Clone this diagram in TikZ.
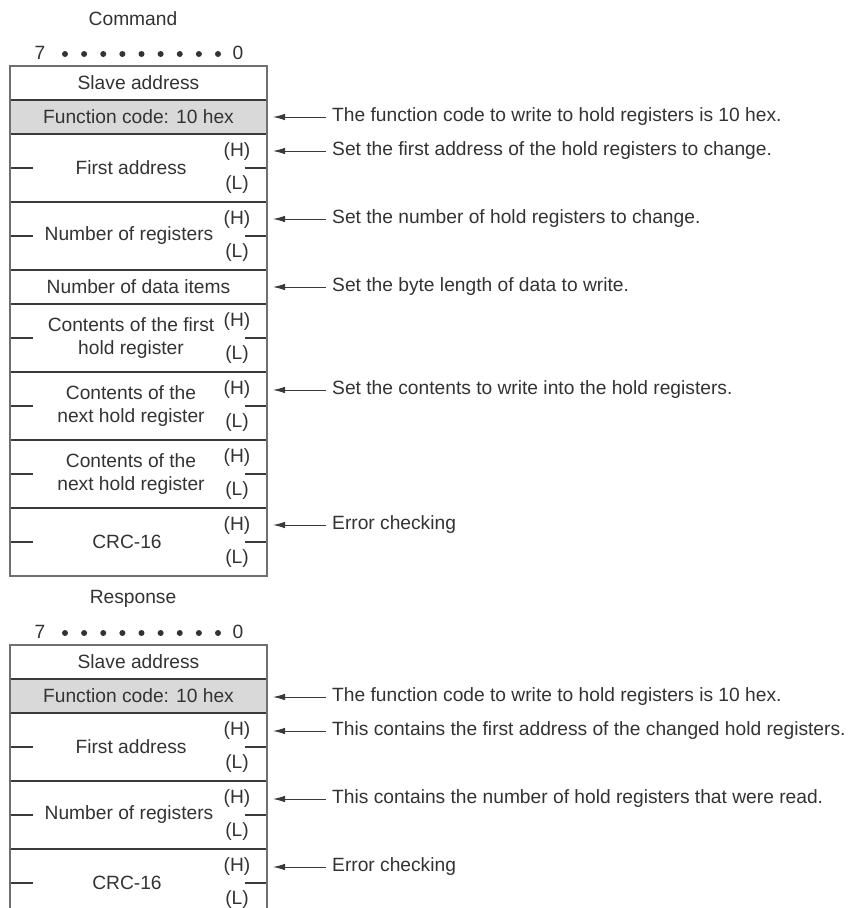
\documentclass[tikz,border=0pt]{standalone}
\usepackage{fontspec}
\setmainfont{Liberation Sans}
\usetikzlibrary{arrows.meta}
\definecolor{txt}{HTML}{333333}
\definecolor{ln}{HTML}{3A3A3A}
\definecolor{bd}{HTML}{707070}
\definecolor{fc}{HTML}{D9D9D9}
\begin{document}
\begin{tikzpicture}[x=1pt,y=-1pt,
  lbl/.style={font=\fontsize{19.2}{23}\selectfont, text=txt, inner sep=0pt, align=center},
  note/.style={lbl, anchor=west},
  sepline/.style={draw=ln, line width=1.1pt},
  border/.style={draw=bd, line width=1.3pt},
  ptr/.style={draw=ln, line width=0.9pt, -{Latex[length=12pt,width=6.5pt]}},
  bitdot/.style={circle, fill=txt, inner sep=0pt, minimum size=6pt}
]
\clip (0,0) rectangle (852,908);
\fill[white] (0,0) rectangle (852,908);

% ================= COMMAND =================
\node[lbl] (cmdtitle) at (133,19) {Command};
\node[lbl] (c7) at (40,53) {7};
\foreach \i in {0,...,8} \node[bitdot] (cd\i) at ({65+19.125*\i},54) {};
\node[lbl] (c0) at (238,53) {0};

\fill[fc] (10,100) rectangle (267,134);
\foreach \y in {100,134,202,270,304,372,440,508} \draw[sepline] (10,\y) -- (267,\y);
\foreach \y in {168,236,338,406,474,542} {
  \draw[sepline] (10,\y) -- (33,\y);
  \draw[sepline] (245,\y) -- (267,\y);
}
\draw[border] (10,66) rectangle (267,576);

\node[lbl] (cslave) at (138.5,83) {Slave address};
\node[lbl] (cfunc) at (138.5,117) {Function code: 10 hex};
\node[lbl] (cfirst) at (131,168) {First address};
\node[lbl] (cnum) at (129,236) {Number of registers};
\node[lbl] (cdata) at (138.5,287) {Number of data items};
\node[lbl] (ccont1) at (131,338) {Contents of the first\\hold register};
\node[lbl] (ccont2) at (131,406) {Contents of the\\next hold register};
\node[lbl] (ccont3) at (131,474) {Contents of the\\next hold register};
\node[lbl] (ccrc) at (127,542) {CRC-16};
\foreach \t/\n in {134/a,202/b,304/c,372/d,440/e,508/f} {
  \node[lbl] (cH\n) at (237,\t+18) {(H)};
  \node[lbl] (cL\n) at (237,\t+51) {(L)};
}

\coordinate (ct1) at (273,117);
\coordinate (ct2) at (273,151);
\coordinate (ct3) at (273,219);
\coordinate (ct4) at (273,287);
\coordinate (ct5) at (273,390);
\coordinate (ct6) at (273,525);
\node[note] (cn1) at (332,117) {The function code to write to hold registers is 10 hex.};
\node[note] (cn2) at (332,151) {Set the first address of the hold registers to change.};
\node[note] (cn3) at (332,219) {Set the number of hold registers to change.};
\node[note] (cn4) at (332,287) {Set the byte length of data to write.};
\node[note] (cn5) at (332,390) {Set the contents to write into the hold registers.};
\node[note] (cn6) at (332,525) {Error checking};
\foreach \k in {1,...,6} \draw[ptr] ([xshift=-6pt]cn\k.west) -- (ct\k);

% ================= RESPONSE =================
\node[lbl] (rsptitle) at (133,599) {Response};
\node[lbl] (r7) at (40,632) {7};
\foreach \i in {0,...,8} \node[bitdot] (rd\i) at ({65+19.125*\i},633) {};
\node[lbl] (r0) at (238,632) {0};

\fill[fc] (10,679) rectangle (267,713);
\foreach \y in {679,713,781,849} \draw[sepline] (10,\y) -- (267,\y);
\foreach \y in {747,815,883} {
  \draw[sepline] (10,\y) -- (33,\y);
  \draw[sepline] (245,\y) -- (267,\y);
}
\draw[border] (10,645) rectangle (267,917);

\node[lbl] (rslave) at (138.5,662) {Slave address};
\node[lbl] (rfunc) at (138.5,696) {Function code: 10 hex};
\node[lbl] (rfirst) at (131,747) {First address};
\node[lbl] (rnum) at (129,815) {Number of registers};
\node[lbl] (rcrc) at (127,883) {CRC-16};
\foreach \t/\n in {713/a,781/b,849/c} {
  \node[lbl] (rH\n) at (237,\t+18) {(H)};
  \node[lbl] (rL\n) at (237,\t+51) {(L)};
}

\coordinate (rt1) at (273,697);
\coordinate (rt2) at (273,731);
\coordinate (rt3) at (273,799);
\coordinate (rt4) at (273,867);
\node[note] (rn1) at (332,697) {The function code to write to hold registers is 10 hex.};
\node[note] (rn2) at (332,731) {This contains the first address of the changed hold registers.};
\node[note] (rn3) at (332,799) {This contains the number of hold registers that were read.};
\node[note] (rn4) at (332,867) {Error checking};
\foreach \k in {1,...,4} \draw[ptr] ([xshift=-6pt]rn\k.west) -- (rt\k);
\end{tikzpicture}
\end{document}
